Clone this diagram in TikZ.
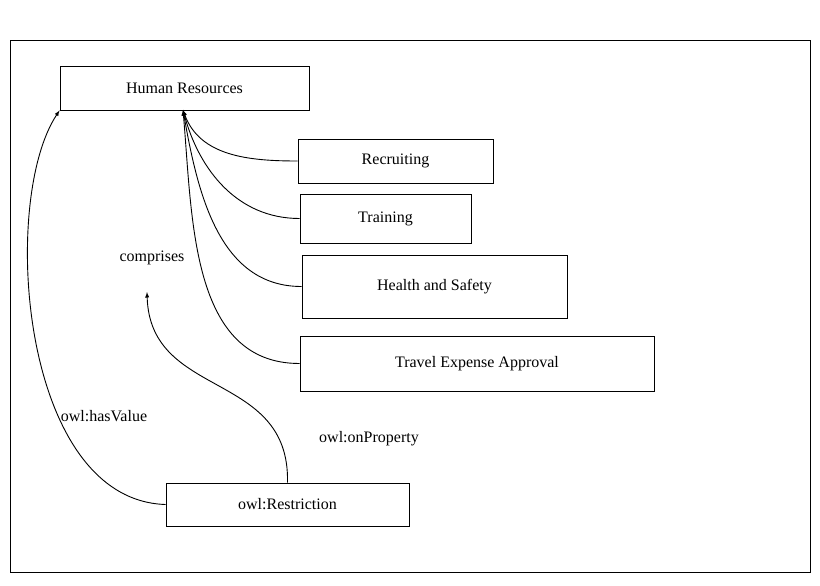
\documentclass[tikz,border=0pt]{standalone}
\usepackage{fontspec}
\setmainfont{Liberation Serif}
\begin{document}
\begin{tikzpicture}
            [x=1pt,y=-1pt,every node/.style={font=\fontsize{16}{19}\selectfont},
             box/.style={draw,line width=0.9pt,inner sep=0},
             link/.style={line width=0.9pt,-latex}]

            \useasboundingbox (0,0) rectangle (820,586);
            \draw[line width=0.6pt] (10,40) rectangle (810,572);

            \node[box,minimum width=249pt,minimum height=44pt] (hr) at (184.5,88) {Human Resources};
            \node[box,minimum width=195pt,minimum height=44pt] (rec) at (395.5,161) {Recruiting};
            \node[box,minimum width=171pt,minimum height=49pt] (tra) at (385.5,218.5) {Training};
            \node[box,minimum width=265pt,minimum height=63pt] (hs) at (434.5,286.5) {Health and Safety};
            \node[box,minimum width=354pt,minimum height=55pt] (tea) at (477,363.5) {Travel Expense Approval};
            \node[box,minimum width=243pt,minimum height=43pt] (res) at (287.5,504.5) {owl:Restriction};

            \node (comp) at (152,258) {comprises};
            \node (hv) at (104,416) {owl:hasValue};
            \node (op) at (369,439) {owl:onProperty};
            \coordinate (tip) at (183,110);
            \coordinate (ctip) at (147,292);

            \draw[link] (rec.west) to[out=180,in=-70] (tip);
            \draw[link] (tra.west) to[out=180,in=-75] (tip);
            \draw[link] (hs.west) to[out=180,in=-80] (tip);
            \draw[link] (tea.west) to[out=180,in=-85] (tip);
            \draw[link] (res.west) .. controls (20,500) and (0,200) .. (hr.south west);
            \draw[link] (res.north) .. controls (290,370) and (150,400) .. (ctip);
          \end{tikzpicture}
\end{document}
